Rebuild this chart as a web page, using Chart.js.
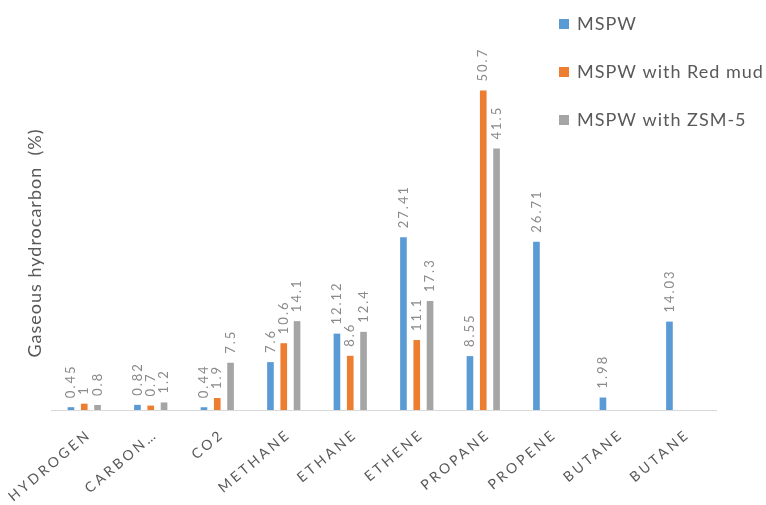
<!DOCTYPE html>
<html>
<head>
<meta charset="utf-8">
<script src="https://cdn.jsdelivr.net/npm/chart.js@4/dist/chart.umd.min.js"></script>
<style>
  html, body { margin: 0; padding: 0; background: #ffffff; }
  #wrap { width: 766px; height: 505px; position: relative; }
</style>
</head>
<body>
<div id="wrap"><canvas id="chart"></canvas></div>
<script>
// Gas components measured in the pyrolysis product
const categories = ['HYDROGEN', 'CARBON\u2026', 'CO2', 'METHANE', 'ETHANE', 'ETHENE', 'PROPANE', 'PROPENE', 'BUTANE', 'BUTANE'];

// Composition (%) per feedstock / catalyst
const mspw        = [0.45, 0.82, 0.44, 7.6, 12.12, 27.41, 8.55, 26.71, 1.98, 14.03];
const mspwRedMud  = [1, 0.7, 1.9, 10.6, 8.6, 11.1, 50.7, null, null, null];
const mspwZsm5    = [0.8, 1.2, 7.5, 14.1, 12.4, 17.3, 41.5, null, null, null];

const seriesNames = ['MSPW', 'MSPW with Red mud', 'MSPW with ZSM-5'];
const seriesColors = ['#5b9bd5', '#ed7d31', '#a5a5a5'];

const TEXT_GREY = '#595959';
const LABEL_GREY = '#8a8a8a';
const FONT = 'Lato, "Open Sans", sans-serif';

// Wide letter spacing for the category labels
const spacingPlugin = {
  id: 'spacing',
  beforeDraw(chart) { chart.ctx.letterSpacing = '3px'; },
  afterDraw(chart) { chart.ctx.letterSpacing = '0px'; }
};

// Vertical value labels above every bar
const valueLabels = {
  id: 'valueLabels',
  afterDatasetsDraw(chart) {
    const ctx = chart.ctx;
    chart.data.datasets.forEach((ds, di) => {
      const meta = chart.getDatasetMeta(di);
      meta.data.forEach((bar, i) => {
        const v = ds.data[i];
        if (v === null || v === undefined) return;
        ctx.save();
        ctx.letterSpacing = '2px';
        ctx.font = '13px ' + FONT;
        ctx.fillStyle = LABEL_GREY;
        ctx.translate(bar.x, bar.y - 9);
        ctx.rotate(-Math.PI / 2);
        ctx.textAlign = 'left';
        ctx.textBaseline = 'middle';
        ctx.fillText(String(v), 0, 0);
        ctx.restore();
      });
    });
  }
};

// Legend stacked in the upper right corner
const cornerLegend = {
  id: 'cornerLegend',
  afterDraw(chart) {
    const ctx = chart.ctx;
    const x0 = 559, y0 = 24, step = 48, box = 10;
    chart.data.datasets.forEach((ds, i) => {
      const cy = y0 + i * step;
      ctx.save();
      ctx.fillStyle = ds.backgroundColor;
      ctx.fillRect(x0, cy - box / 2, box, box);
      ctx.letterSpacing = '1px';
      ctx.font = '18px ' + FONT;
      ctx.fillStyle = TEXT_GREY;
      ctx.textAlign = 'left';
      ctx.textBaseline = 'middle';
      ctx.fillText(ds.label, x0 + 18, cy);
      ctx.restore();
    });
  }
};

const datasets = [mspw, mspwRedMud, mspwZsm5].map((values, i) => ({
  label: seriesNames[i],
  data: values,
  backgroundColor: seriesColors[i],
  borderWidth: 0,
  categoryPercentage: 0.6,
  barPercentage: 0.5
}));

new Chart(document.getElementById('chart'), {
  type: 'bar',
  data: { labels: categories, datasets },
  options: {
    responsive: true,
    maintainAspectRatio: false,
    animation: false,
    layout: { padding: { left: 20, right: 50, top: 76, bottom: 0 } },
    plugins: {
      legend: { display: false },
      tooltip: { enabled: false }
    },
    scales: {
      x: {
        grid: { display: false },
        border: { display: true, color: '#d9d9d9', width: 1 },
        ticks: {
          color: TEXT_GREY,
          font: { family: FONT, size: 14 },
          minRotation: 40,
          maxRotation: 40,
          autoSkip: false,
          padding: 8,
          labelOffset: 5
        },
        afterFit(scale) { scale.height = 95; }
      },
      y: {
        min: 0,
        max: 53,
        grid: { display: false },
        border: { display: false },
        ticks: { display: false },
        title: {
          display: true,
          text: 'Gaseous hydrocarbon  (%)',
          color: TEXT_GREY,
          font: { family: FONT, size: 18 }
        },
        afterFit(scale) {
          scale.width = 31;
          // the axis title uses tighter spacing than the category labels
          if (!scale._titleSpacing) {
            const drawTitle = scale.drawTitle;
            scale.drawTitle = function () {
              const c = this.ctx;
              const prev = c.letterSpacing;
              c.letterSpacing = '1px';
              drawTitle.call(this);
              c.letterSpacing = prev;
            };
            scale._titleSpacing = true;
          }
        }
      }
    }
  },
  plugins: [spacingPlugin, valueLabels, cornerLegend]
});
</script>
</body>
</html>
